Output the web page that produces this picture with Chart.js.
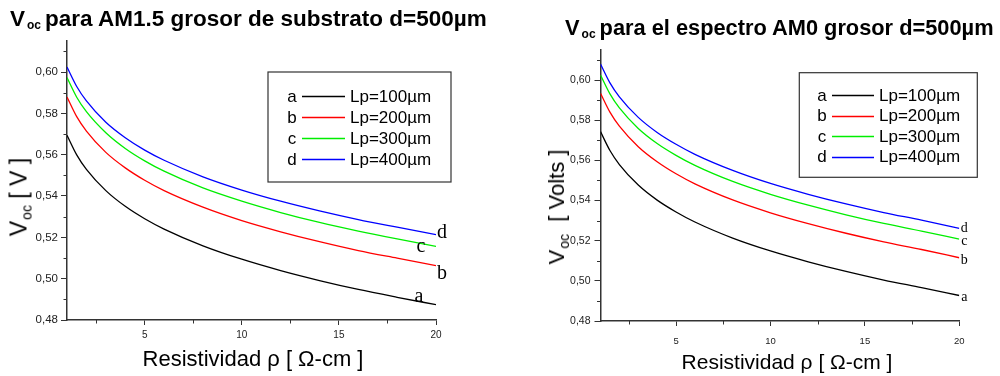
<!DOCTYPE html>
<html>
<head>
<meta charset="utf-8">
<script src="https://cdn.jsdelivr.net/npm/chart.js@4.4.1/dist/chart.umd.min.js"></script>
<style>
  html, body { margin: 0; padding: 0; background: #fff; }
  #wrap { position: relative; width: 1000px; height: 376px; overflow: hidden;
          font-family: "Liberation Sans", Arial, sans-serif; color: #000; }
  .panel { position: absolute; top: 0; width: 500px; height: 376px; }
  .panel canvas { position: absolute; left: 0; top: 0; }
  .txt { position: absolute; white-space: nowrap; line-height: 1; }
  .title { font-weight: bold; }
  .title sub { font-size: 12px; vertical-align: baseline; position: relative; top: 3px; margin-left: 2px; margin-right: 4px; }
  .ytitle { transform: translate(-50%, -50%) rotate(-90deg); font-size: 23px; }
  .ytitle sub { font-size: 14px; vertical-align: baseline; position: relative; top: 5px; margin-left: 1px; }
  .xtitle { transform: translate(-50%, -50%); font-size: 22px; }
</style>
</head>
<body>
<div id="wrap">
  <div class="panel" style="left:0"><canvas id="cAM15" width="500" height="376"></canvas></div>
  <div class="panel" style="left:500px"><canvas id="cAM0" width="500" height="376"></canvas></div>

  <div class="txt title" style="left:10px; top:8px; font-size:22.5px;">V<sub>oc</sub>para AM1.5 grosor de substrato d=500µm</div>
  <div class="txt title" style="left:565px; top:17px; font-size:21.8px;">V<sub>oc</sub>para el espectro AM0 grosor d=500µm</div>

  <div class="txt ytitle" style="left:19px; top:197px;">V<sub>oc</sub> [ V ]</div>
  <div class="txt ytitle" style="left:557px; top:207px; font-size:22px;">V<sub>oc</sub>&nbsp; [ Volts ]</div>

  <div class="txt xtitle" style="left:253px; top:359px;">Resistividad ρ [ Ω-cm ]</div>
  <div class="txt xtitle" style="left:787px; top:361px; font-size:21px;">Resistividad ρ [ Ω-cm ]</div>
</div>

<script>
// Resistivity samples (Ω-cm)
const rho = [1, 1.5, 2, 3, 4, 5, 6, 8, 10, 12, 14, 16, 18, 20];

// Voc (V) under AM1.5, substrate d = 500 µm
const vocAM15_a = [0.5694, 0.5599, 0.5529, 0.5426, 0.5350, 0.5290, 0.5240, 0.5159, 0.5094, 0.5039, 0.4991, 0.4948, 0.4910, 0.4874];
const vocAM15_b = [0.5879, 0.5784, 0.5714, 0.5611, 0.5536, 0.5476, 0.5426, 0.5346, 0.5281, 0.5227, 0.5179, 0.5136, 0.5099, 0.5063];
const vocAM15_c = [0.5973, 0.5878, 0.5808, 0.5706, 0.5630, 0.5570, 0.5520, 0.5439, 0.5375, 0.5320, 0.5272, 0.5230, 0.5192, 0.5156];
const vocAM15_d = [0.6024, 0.5930, 0.5860, 0.5757, 0.5682, 0.5622, 0.5573, 0.5493, 0.5429, 0.5375, 0.5328, 0.5286, 0.5249, 0.5213];

// Voc (V) under AM0, substrate d = 500 µm
const vocAM0_a = [0.5743, 0.5649, 0.5579, 0.5477, 0.5402, 0.5343, 0.5293, 0.5213, 0.5149, 0.5095, 0.5047, 0.5004, 0.4966, 0.4927];
const vocAM0_b = [0.5934, 0.5840, 0.5770, 0.5668, 0.5593, 0.5533, 0.5483, 0.5403, 0.5339, 0.5285, 0.5237, 0.5194, 0.5156, 0.5115];
const vocAM0_c = [0.6025, 0.5931, 0.5861, 0.5759, 0.5684, 0.5625, 0.5575, 0.5495, 0.5431, 0.5377, 0.5329, 0.5286, 0.5248, 0.5208];
const vocAM0_d = [0.6080, 0.5986, 0.5916, 0.5814, 0.5739, 0.5680, 0.5630, 0.5550, 0.5485, 0.5431, 0.5383, 0.5340, 0.5302, 0.5261];

const seriesLetters = ['a', 'b', 'c', 'd'];
const seriesNames = ['Lp=100µm', 'Lp=200µm', 'Lp=300µm', 'Lp=400µm'];
const seriesColors = ['#000000', '#ff0000', '#00ee00', '#0000ff'];

// Axis ticks
const xTickValues = [5, 10, 15, 20];
const xMinorValues = [2.5, 7.5, 12.5, 17.5];
const yTickValues = [0.48, 0.50, 0.52, 0.54, 0.56, 0.58, 0.60];
const yMinorValues = [0.49, 0.51, 0.53, 0.55, 0.57, 0.59, 0.61];

// Short minor tick marks on both axes
const minorTicks = {
  id: 'minorTicks',
  afterDraw(chart) {
    const { ctx, chartArea, scales } = chart;
    ctx.save();
    ctx.strokeStyle = '#333';
    ctx.lineWidth = 1;
    ctx.beginPath();
    xMinorValues.forEach(v => {
      const px = Math.round(scales.x.getPixelForValue(v)) + 0.5;
      ctx.moveTo(px, chartArea.bottom);
      ctx.lineTo(px, chartArea.bottom + 3.5);
    });
    yMinorValues.forEach(v => {
      const py = Math.round(scales.y.getPixelForValue(v)) + 0.5;
      ctx.moveTo(chartArea.left, py);
      ctx.lineTo(chartArea.left - 3.5, py);
    });
    ctx.stroke();
    ctx.restore();
  }
};

// Boxed legend: "letter ——— name"
const letterLegend = {
  id: 'letterLegend',
  afterDraw(chart, args, o) {
    const { ctx } = chart;
    ctx.save();
    ctx.strokeStyle = '#333';
    ctx.lineWidth = 1.2;
    ctx.strokeRect(o.box[0], o.box[1], o.box[2], o.box[3]);
    ctx.font = o.fontSize + 'px "Liberation Sans", Arial, sans-serif';
    ctx.textBaseline = 'middle';
    chart.data.datasets.forEach((ds, i) => {
      const y = o.rows[i];
      ctx.fillStyle = '#000';
      ctx.textAlign = 'center';
      ctx.fillText(seriesLetters[i], o.letterX, y + 1);
      ctx.textAlign = 'left';
      ctx.fillText(ds.label, o.textX, y + 1);
      ctx.strokeStyle = ds.borderColor;
      ctx.lineWidth = 1.3;
      ctx.beginPath();
      ctx.moveTo(o.line[0], Math.round(y) + 0.5);
      ctx.lineTo(o.line[1], Math.round(y) + 0.5);
      ctx.stroke();
    });
    ctx.restore();
  }
};

// Letter next to the last point of each curve
const endLabels = {
  id: 'endLabels',
  afterDatasetsDraw(chart, args, o) {
    const { ctx } = chart;
    ctx.save();
    ctx.font = o.fontSize + 'px "Liberation Serif", "Times New Roman", serif';
    ctx.fillStyle = '#000';
    ctx.textAlign = 'center';
    ctx.textBaseline = 'alphabetic';
    chart.data.datasets.forEach((ds, i) => {
      const pts = chart.getDatasetMeta(i).data;
      const last = pts[pts.length - 1];
      const off = o.offsets[i];
      ctx.fillText(seriesLetters[i], last.x + off[0], last.y + off[1]);
    });
    ctx.restore();
  }
};

function makeChart(id, series, L) {
  const axisColor = '#333';
  return new Chart(document.getElementById(id), {
    type: 'line',
    data: {
      datasets: series.map((vals, i) => ({
        label: seriesNames[i],
        data: rho.map((x, j) => ({ x: x, y: vals[j] })),
        borderColor: seriesColors[i],
        borderWidth: 1.3,
        pointRadius: 0,
        fill: false,
        cubicInterpolationMode: 'monotone'
      }))
    },
    options: {
      responsive: false,
      animation: false,
      devicePixelRatio: 1,
      layout: { padding: { left: 0, right: L.padRight, top: L.padTop, bottom: 0 } },
      plugins: {
        legend: { display: false },
        tooltip: { enabled: false },
        title: { display: false },
        letterLegend: L.legend,
        endLabels: L.ends
      },
      scales: {
        x: {
          type: 'linear', min: 1, max: 20,
          afterBuildTicks: s => { s.ticks = xTickValues.map(v => ({ value: v })); },
          afterFit: s => { s.height = L.xHeight; },
          ticks: { autoSkip: false, maxRotation: 0, padding: L.xPad, color: '#222',
                   font: { family: '"Liberation Sans", Arial, sans-serif', size: L.xFont },
                   callback: v => String(v) },
          grid: { drawOnChartArea: false, drawTicks: true, tickLength: 5, color: axisColor, tickWidth: 1 },
          border: { color: axisColor, width: 1.5 }
        },
        y: {
          type: 'linear', min: 0.48, max: 0.615,
          afterBuildTicks: s => { s.ticks = yTickValues.map(v => ({ value: v })); },
          afterFit: s => { s.width = L.yWidth; },
          ticks: { autoSkip: false, padding: L.yPad, color: '#222',
                   font: { family: '"Liberation Sans", Arial, sans-serif', size: L.yFont },
                   callback: v => v.toFixed(2).replace('.', ',') },
          grid: { drawOnChartArea: false, drawTicks: true, tickLength: 6, color: axisColor, tickWidth: 1 },
          border: { color: axisColor, width: 1.5 }
        }
      }
    },
    plugins: [minorTicks, letterLegend, endLabels]
  });
}

makeChart('cAM15', [vocAM15_a, vocAM15_b, vocAM15_c, vocAM15_d], {
  padRight: 64, padTop: 41, xHeight: 56, yWidth: 67,
  xPad: 4, yPad: 3, xFont: 10, yFont: 11.5,
  legend: { box: [268, 72, 183, 110], rows: [96, 117, 138, 159], letterX: 292,
            line: [302, 345], textX: 350, fontSize: 17 },
  ends: { fontSize: 20, offsets: [[-17, -3], [6, 13], [-15, 6], [6, 3]] }
});

makeChart('cAM0', [vocAM0_a, vocAM0_b, vocAM0_c, vocAM0_d], {
  padRight: 40.7, padTop: 49.9, xHeight: 55, yWidth: 100.5,
  xPad: 10, yPad: 4, xFont: 9.5, yFont: 10.5,
  legend: { box: [299.3, 72.7, 178, 104.6], rows: [95, 115.5, 136, 156.5], letterX: 322,
            line: [332, 374], textX: 379, fontSize: 17 },
  ends: { fontSize: 14, offsets: [[5, 6], [5, 6], [5, 6], [5, 4]] }
});
</script>
</body>
</html>
